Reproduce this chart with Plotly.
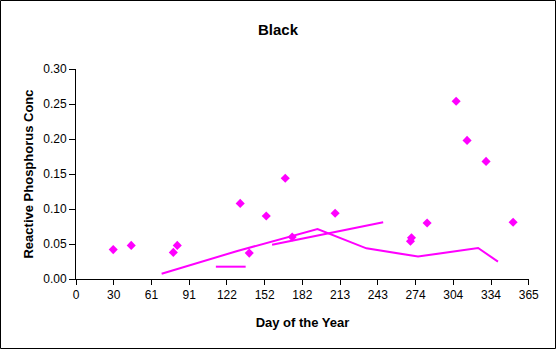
import plotly.graph_objects as go

# Sampled reactive phosphorus concentrations
sample_day = [30.0, 44.5, 78.4, 81.6, 132.3, 139.6, 153.3, 168.6, 174.2,
              208.8, 269.5, 270.3, 282.9, 306.3, 315.1, 330.4, 352.2]
sample_conc = [0.042, 0.048, 0.038, 0.048, 0.108, 0.037, 0.090, 0.144, 0.060,
               0.094, 0.054, 0.059, 0.080, 0.254, 0.198, 0.168, 0.081]

# Seasonal trend line
trend_day = [69, 130, 194.6, 234, 275.6, 324, 340]
trend_conc = [0.0076, 0.040, 0.0714, 0.0438, 0.032, 0.0443, 0.0248]

# Short spring segment
spring_day = [112.7, 136.7]
spring_conc = [0.0176, 0.0176]

# Summer rise
summer_day = [158, 247.5]
summer_conc = [0.049, 0.081]

x_tick_vals = [i * 30.4 for i in range(13)]
x_tick_text = ["0", "30", "61", "91", "122", "152", "182", "213",
               "243", "274", "304", "334", "365"]
y_tick_vals = [0, 0.05, 0.10, 0.15, 0.20, 0.25, 0.30]

MAGENTA = "#FF00FF"
FONT = "Liberation Sans, Arial, sans-serif"

fig = go.Figure()
fig.add_trace(go.Scatter(x=trend_day, y=trend_conc, mode="lines",
                         line=dict(color=MAGENTA, width=2)))
fig.add_trace(go.Scatter(x=spring_day, y=spring_conc, mode="lines",
                         line=dict(color=MAGENTA, width=2)))
fig.add_trace(go.Scatter(x=summer_day, y=summer_conc, mode="lines",
                         line=dict(color=MAGENTA, width=2)))
fig.add_trace(go.Scatter(x=sample_day, y=sample_conc, mode="markers",
                         marker=dict(symbol="diamond", size=7, color=MAGENTA,
                                     line=dict(width=0))))

W, H = 556, 349
L, R, T, B = 76, 27, 69, 70
pw, ph = W - L - R, H - T - B

fig.update_layout(
    width=W, height=H,
    margin=dict(l=L, r=R, t=T, b=B),
    paper_bgcolor="white", plot_bgcolor="white",
    showlegend=False,
    font=dict(family=FONT, size=12, color="black"),
    title=dict(text="<b>Black</b>", x=0.5, xref="container", xanchor="center",
               y=1 - 30 / H, yref="container", yanchor="middle",
               font=dict(family=FONT, size=15, color="black")),
    xaxis=dict(range=[0, 365], tickmode="array", tickvals=x_tick_vals,
               ticktext=x_tick_text, ticks="outside", ticklen=5,
               tickcolor="black", showline=True, linecolor="black",
               linewidth=1, showgrid=False, zeroline=False,
               tickfont=dict(size=12),
               title=dict(text="<b>Day of the Year</b>", standoff=16,
                          font=dict(size=13))),
    yaxis=dict(range=[0, 0.30], tickmode="array", tickvals=y_tick_vals,
               tickformat=".2f", ticks="outside", ticklen=6,
               tickcolor="black", showline=True, linecolor="black",
               linewidth=1, showgrid=False, zeroline=False,
               tickfont=dict(size=12),
               title=dict(text="<b>Reactive Phosphorus Conc</b>", standoff=6,
                          font=dict(size=13))),
)

# Outer chart frame
fig.add_shape(type="rect", xref="paper", yref="paper",
              x0=(0.5 - L) / pw, x1=(W - 0.5 - L) / pw,
              y0=(T + ph - (H - 0.5)) / ph, y1=(T + ph - 0.5) / ph,
              line=dict(color="black", width=1), fillcolor="rgba(0,0,0,0)",
              layer="below")

fig.write_html("out.html")
